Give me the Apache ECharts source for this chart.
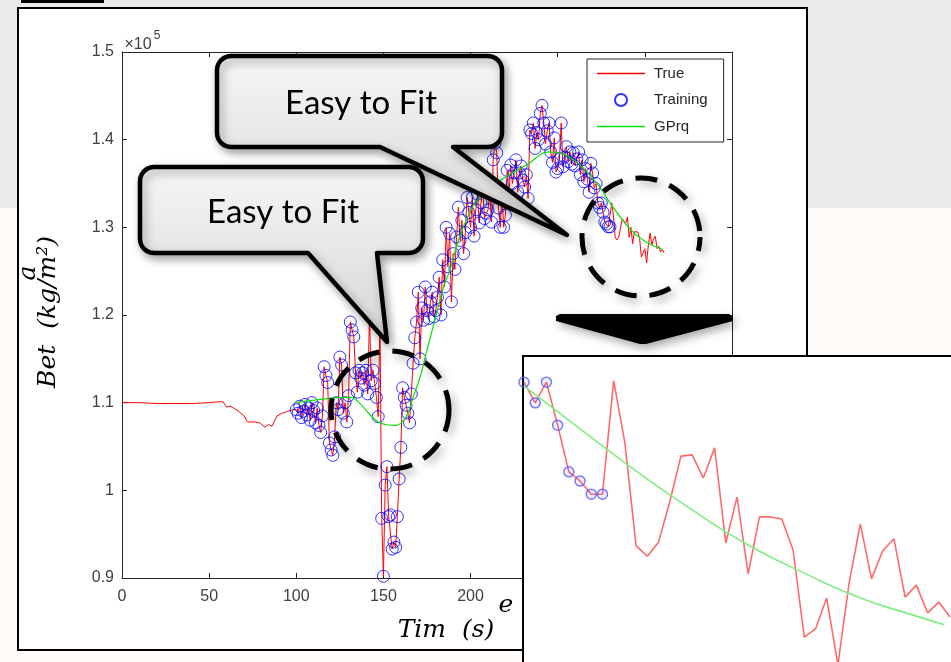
<!DOCTYPE html>
<html><head><meta charset="utf-8">
<script src="https://cdn.jsdelivr.net/npm/echarts@6/dist/echarts.min.js"></script>
<style>
html,body{margin:0;padding:0;width:951px;height:662px;overflow:hidden;background:linear-gradient(#eaeaea 0,#eaeaea 208px,#fdfaf7 208px);}
#bar{position:absolute;left:21px;top:0;width:83px;height:3px;background:#000;}
#frame{position:absolute;left:17px;top:7px;width:787px;height:640px;border:2px solid #000;background:#fff;}
#chart{position:absolute;left:0;top:0;width:951px;height:662px;}
</style></head><body>
<div id="bar"></div><div id="frame"></div><div id="chart"></div>
<script>
// ---- data (values in units of 1e5 kg/m^2) ----
const preT = [0,10,20,30,40,50,55,58,60,62,64,67,70,72,76,79,82,84,86,89,92,95,98,99];
const preV = [1.100,1.100,1.099,1.099,1.099,1.100,1.101,1.101,1.095,1.096,1.094,1.090,1.085,1.078,1.078,1.077,1.072,1.075,1.073,1.085,1.088,1.090,1.092,1.090];

const measuredStart = 100; // one sample per second
const measuredV = [
 1.092,1.088,1.096,1.083,1.090,1.098,1.086,1.094,1.080,1.100,
 1.091,1.077,1.094,1.074,1.066,1.085,1.141,1.131,1.123,1.054,
 1.046,1.040,1.061,1.100,1.092,1.152,1.143,1.088,1.100,1.078,
 1.108,1.192,1.183,1.175,1.134,1.112,1.137,1.128,1.134,1.120,
 1.137,1.110,1.200,1.125,1.137,1.122,1.106,1.084,1.195,0.968,
 0.902,1.006,1.027,0.970,0.972,0.933,0.941,0.935,0.970,1.013,
 1.049,1.117,1.106,1.097,1.088,1.077,1.110,1.145,1.174,1.192,
 1.226,1.150,1.208,1.194,1.232,1.205,1.196,1.215,1.226,1.198,
 1.205,1.220,1.243,1.200,1.263,1.232,1.300,1.255,1.293,1.215,
 1.270,1.252,1.289,1.323,1.285,1.308,1.270,1.294,1.334,1.317,
 1.300,1.334,1.290,1.320,1.338,1.305,1.328,1.345,1.310,1.316,
 1.320,1.340,1.306,1.377,1.396,1.385,1.322,1.300,1.337,1.300,
 1.314,1.365,1.337,1.371,1.350,1.362,1.377,1.340,1.362,1.370,
 1.354,1.346,1.360,1.333,1.411,1.407,1.419,1.390,1.408,1.400,
 1.430,1.439,1.419,1.395,1.410,1.419,1.386,1.374,1.402,1.363,
 1.367,1.378,1.419,1.369,1.380,1.392,1.375,1.386,1.372,1.385,
 1.370,1.378,1.386,1.360,1.377,1.352,1.367,1.355,1.340,1.373,1.362,1.345,1.350
];
const zoomStart = 273; // section shown magnified in the inset
const zoomV = [1.3277,1.3227,1.3277,1.3173,1.3060,1.3038,1.3006,1.3006,1.3280,1.3130,
 1.2881,1.2856,1.2890,1.2987,1.3098,1.3101,1.3045,1.3118,1.2888,1.2999,
 1.2813,1.2951,1.2951,1.2946,1.2871,1.2660,1.2680,1.2755,1.2593,1.2791,
 1.2934,1.2801,1.2869,1.2898,1.2757,1.2786,1.2719,1.2745,1.2709];
const trainEnd = 280;
const untrainedT = [142,148];

const gpT = [100,119,132,136,148,157,163,167,171,175,180,185,188,193,201,208,216,224,232,245,255,264,274,281,292,300,310];
const gpV = [1.100,1.105,1.106,1.100,1.077,1.074,1.084,1.106,1.129,1.160,1.198,1.235,1.250,1.285,1.323,1.340,1.352,1.362,1.371,1.386,1.382,1.369,1.346,1.325,1.297,1.284,1.275];
const gpZoomT = [273,278,283,288,293,298,303,308,310.5];
const gpZoomV = [1.3268,1.3164,1.3062,1.2968,1.2883,1.2815,1.2755,1.2711,1.2690];

const xTicks = [0,350,50];   // min, max, step
const yTicks = [0.9,1.5,0.1];
const seriesNames = ['True','Training','GPrq'];
const calloutText = 'Easy to Fit';

// ---- build ----
const trueData = [];
preT.forEach((t,i)=>trueData.push([t,preV[i]]));
measuredV.forEach((v,i)=>trueData.push([measuredStart+i,v]));
zoomV.forEach((v,i)=>trueData.push([zoomStart+i,v]));
const trainData = trueData.filter(d=>d[0]>=measuredStart && d[0]<=trainEnd && untrainedT.indexOf(d[0])<0);
const gpData = gpT.map((t,i)=>[t,gpV[i]]);
const zoomData = zoomV.map((v,i)=>[zoomStart+i,v]);
const zoomTrain = zoomData.filter(d=>d[0]<=trainEnd);
const gpZoomData = gpZoomT.map((t,i)=>[t,gpZoomV[i]]);

const axCol = '#262626';
const lblStyle = {color:'#404040',fontSize:16,fontFamily:'Liberation Sans'};
const shadow = {shadowBlur:10,shadowOffsetX:3,shadowOffsetY:4,shadowColor:'rgba(0,0,0,0.35)'};
const calloutFill = {type:'linear',x:0,y:0,x2:0,y2:1,colorStops:[{offset:0,color:'#f6f6f6'},{offset:1,color:'#d6d6d6'}]};
// legend line icon: thin bar with invisible specks to hold the box height
const lineIcon = 'path://M0,0L0.05,0L0.05,0.05Z M0,6.2L56,6.2L56,7.8L0,7.8Z M0,13.95L0.05,13.95L0.05,14Z';

function calloutPts(x0,y0,x1,y1,r,tl,tr,tip){
  const pts=[];
  function arc(cx,cy,a0,a1){for(let k=0;k<=6;k++){const a=a0+(a1-a0)*k/6;pts.push([cx+r*Math.cos(a),cy+r*Math.sin(a)]);}}
  arc(x0+r,y0+r,Math.PI,1.5*Math.PI);
  arc(x1-r,y0+r,1.5*Math.PI,2*Math.PI);
  arc(x1-r,y1-r,0,0.5*Math.PI);
  pts.push([tr,y1]);pts.push(tip);pts.push([tl,y1]);
  arc(x0+r,y1-r,0.5*Math.PI,Math.PI);
  return pts;
}
function txt(x,y,text,font,extra,fill){
  return Object.assign({type:'text',x:x,y:y,z:6,style:{text:text,font:font,fill:fill||'#000',align:'center',verticalAlign:'middle',textAlign:'center',textVerticalAlign:'middle'}},extra||{});
}

const chart = echarts.init(document.getElementById('chart'));
chart.setOption({
  animation:false,
  grid:[{left:122,top:52,width:610,height:526},{left:524,top:352,width:426,height:310}],
  legend:{data:[{name:seriesNames[0],icon:lineIcon},{name:seriesNames[1]},{name:seriesNames[2],icon:lineIcon}],
    orient:'vertical',left:587,top:59,padding:[7,16,8,10],itemWidth:56,itemHeight:12,itemGap:11.5,
    borderColor:axCol,borderWidth:1,backgroundColor:'#fff',z:10,
    textStyle:{color:axCol,fontSize:15,fontFamily:'Liberation Sans'}},
  xAxis:[
    {gridIndex:0,type:'value',min:xTicks[0],max:xTicks[1],interval:xTicks[2],position:'bottom',
      axisLine:{onZero:false,lineStyle:{color:axCol}},axisTick:{inside:true,length:5,lineStyle:{color:axCol}},
      axisLabel:Object.assign({margin:11},lblStyle),splitLine:{show:false}},
    {gridIndex:0,type:'value',min:xTicks[0],max:xTicks[1],interval:xTicks[2],position:'top',
      axisLine:{onZero:false,lineStyle:{color:axCol}},axisTick:{inside:true,length:5,lineStyle:{color:axCol}},
      axisLabel:{show:false},splitLine:{show:false}},
    {gridIndex:1,type:'value',min:zoomStart,max:311,show:false}
  ],
  yAxis:[
    {gridIndex:0,type:'value',min:yTicks[0],max:yTicks[1],interval:yTicks[2],
      axisLine:{show:true,onZero:false,lineStyle:{color:axCol}},axisTick:{show:true,inside:true,length:5,lineStyle:{color:axCol}},
      axisLabel:Object.assign({margin:8,formatter:v=>String(+v.toFixed(1))},lblStyle),splitLine:{show:false}},
    {gridIndex:0,type:'value',min:yTicks[0],max:yTicks[1],interval:yTicks[2],position:'right',
      axisLine:{show:true,onZero:false,lineStyle:{color:axCol}},axisTick:{show:true,inside:true,length:5,lineStyle:{color:axCol}},
      axisLabel:{show:false},splitLine:{show:false}},
    {gridIndex:1,type:'value',min:1.26,max:1.335,show:false}
  ],
  series:[
    {name:'True',type:'line',xAxisIndex:0,yAxisIndex:0,data:trueData,symbol:'none',
      lineStyle:{color:'#ff0000',width:1},itemStyle:{color:'#ff0000'},z:3},
    {name:'Training',type:'scatter',xAxisIndex:0,yAxisIndex:0,data:trainData,symbol:'circle',symbolSize:12,
      itemStyle:{color:'rgba(0,0,0,0)',borderColor:'#0000ff',borderWidth:1},z:4},
    {name:'GPrq',type:'line',xAxisIndex:0,yAxisIndex:0,data:gpData,smooth:0.4,symbol:'none',
      lineStyle:{color:'#00e600',width:1.2},itemStyle:{color:'#00e600'},z:5},
    {name:'TrueZoom',type:'line',xAxisIndex:2,yAxisIndex:2,data:zoomData,symbol:'none',
      lineStyle:{color:'#ff6a6a',width:1.6},z:60},
    {name:'TrainZoom',type:'scatter',xAxisIndex:2,yAxisIndex:2,data:zoomTrain,symbol:'circle',symbolSize:10,
      itemStyle:{color:'rgba(90,90,255,0.12)',borderColor:'#5a5aff',borderWidth:1.5},z:61},
    {name:'GPZoom',type:'line',xAxisIndex:2,yAxisIndex:2,data:gpZoomData,smooth:0.5,symbol:'none',
      lineStyle:{color:'#80ee80',width:1.6},z:62}
  ],
  graphic:[
    txt(138,45,'×10','16px "Liberation Sans"',null,'#404040'),
    txt(157,36,'5','12px "Liberation Sans"',null,'#404040'),
    txt(48,312,'Bet  (kg/m²)','italic 25px "DejaVu Serif"',{rotation:Math.PI/2}),
    txt(28,273,'a','italic 25px "DejaVu Serif"',{rotation:Math.PI/2}),
    txt(446,630,'Tim  (s)','italic 25px "DejaVu Serif"'),
    txt(506,605,'e','italic 25px "DejaVu Serif"'),
    {type:'rect',z:50,shape:{x:523,y:356,width:440,height:320},style:{fill:'#fff',stroke:'#000',lineWidth:2}},
    {type:'polygon',z:70,shape:{points:[[556,316],[560,314],[729,314],[733,317],[733,321],[646,344],[640,344],[556,321]]},
      style:Object.assign({fill:'#000'},shadow)},
    {type:'circle',z:70,shape:{cx:390,cy:410,r:59},style:Object.assign({fill:'none',stroke:'#000',lineWidth:5,lineDash:[22,13]},shadow)},
    {type:'circle',z:70,shape:{cx:641,cy:237,r:59},style:Object.assign({fill:'none',stroke:'#000',lineWidth:5,lineDash:[22,13],lineDashOffset:8},shadow)},
    {type:'polygon',z:72,shape:{points:calloutPts(217,56,502,147,14,380,453,[567,235])},
      style:Object.assign({fill:calloutFill,stroke:'#000',lineWidth:4.5,lineJoin:'round'},shadow)},
    txt(361,103,calloutText,'33px Lato',{z:73}),
    {type:'polygon',z:72,shape:{points:calloutPts(140,167,423,253,14,308,377,[387,342])},
      style:Object.assign({fill:calloutFill,stroke:'#000',lineWidth:4.5,lineJoin:'round'},shadow)},
    txt(283,212,calloutText,'33px Lato',{z:73})
  ]
});
</script></body></html>
